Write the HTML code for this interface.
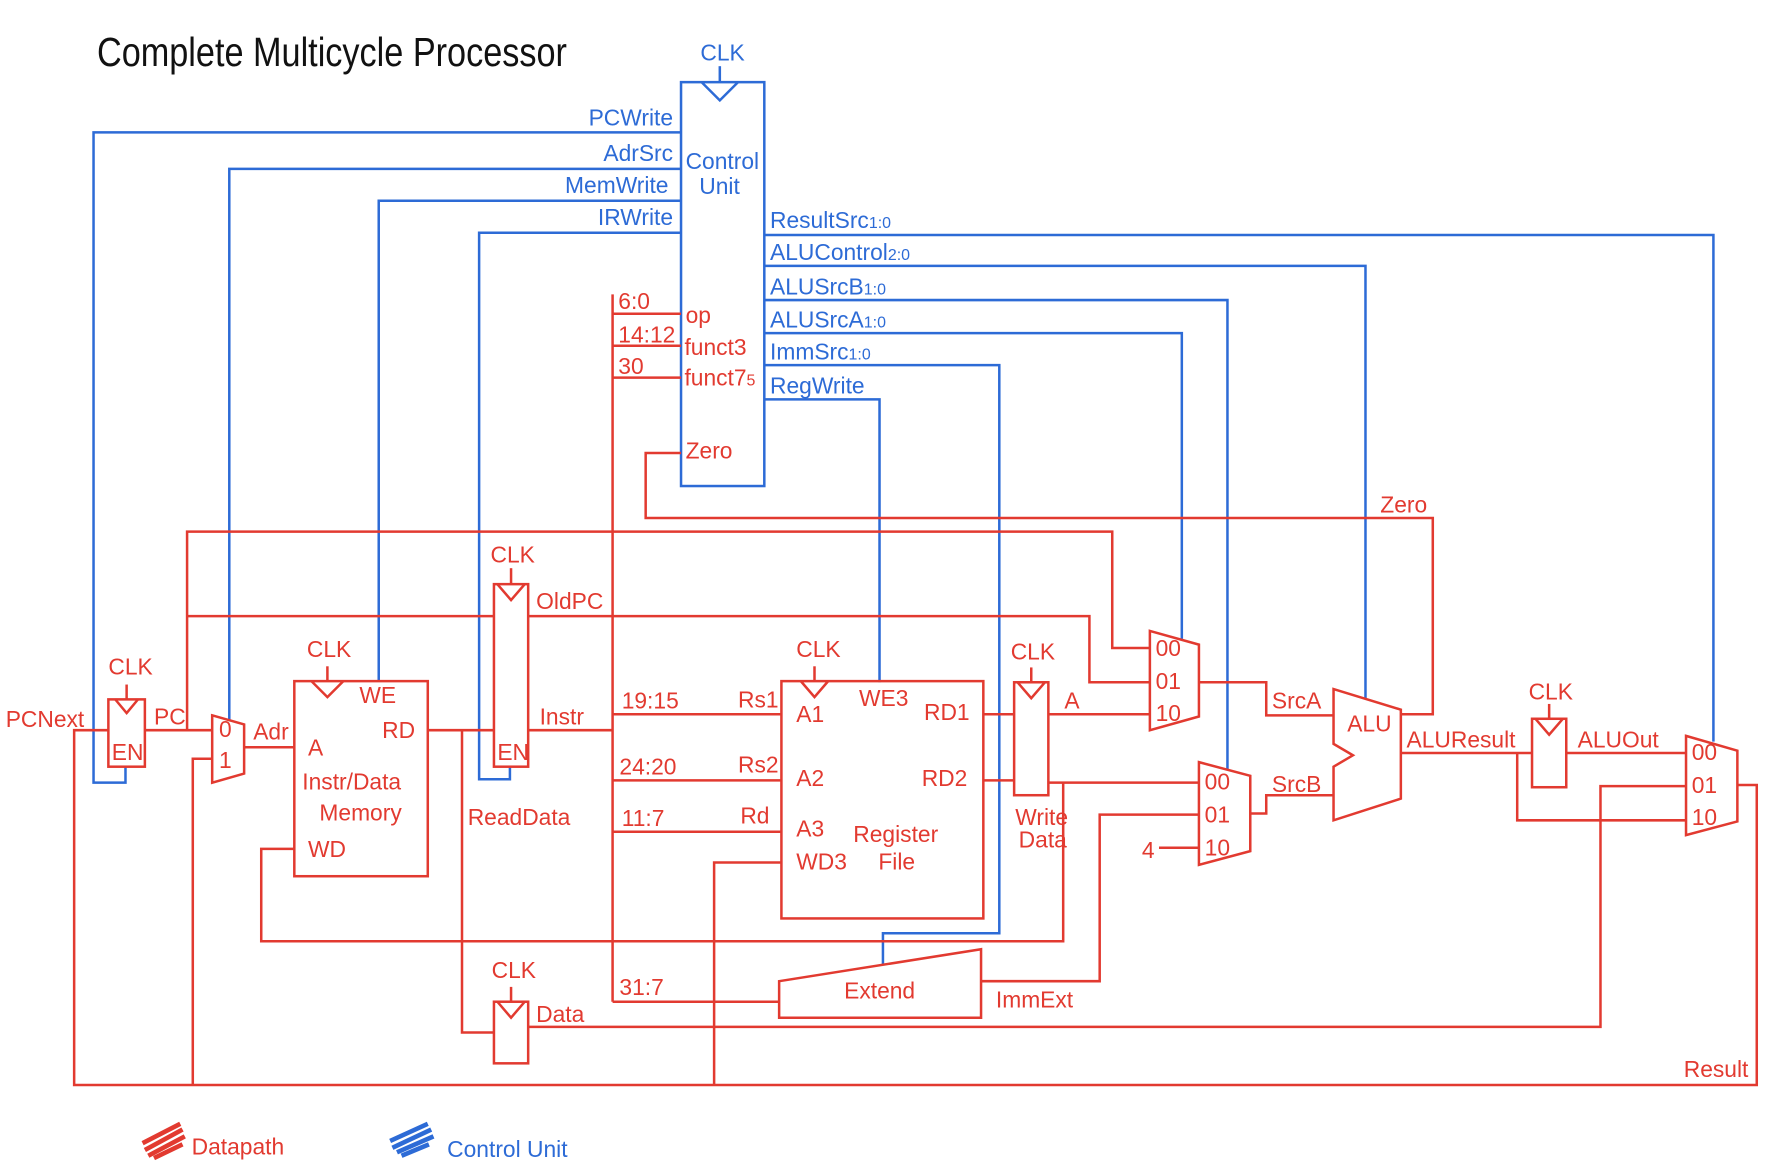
<!DOCTYPE html>
<html><head><meta charset="utf-8"><style>
html,body{margin:0;padding:0;background:#fff;}
svg{display:block;}
text{font-family:"Liberation Sans Narrow","Liberation Sans",sans-serif;}
.r{stroke:#e23a30;fill:none;stroke-width:2.2;}
.b{stroke:#2d6bd6;fill:none;stroke-width:2.2;}
.rt{fill:#e23a30;font-size:20px;}
.bt{fill:#2d6bd6;font-size:20px;}
</style></head><body>
<svg width="1783" height="1174" viewBox="0 0 1563 1029" preserveAspectRatio="none" xmlns="http://www.w3.org/2000/svg">
<rect width="1563" height="1029" fill="#fff"/>
<text x="85" y="58" font-size="36" fill="#111" textLength="412" lengthAdjust="spacingAndGlyphs">Complete Multicycle Processor</text>

<!-- Control unit -->
<rect class="b" x="597" y="72" width="73" height="354"/>
<polyline class="b" points="615,72 631,88 647,72"/>
<line class="b" x1="631" y1="58" x2="631" y2="72"/>
<text class="bt" x="614" y="53">CLK</text>
<text class="bt" x="601" y="148">Control</text>
<text class="bt" x="613" y="170">Unit</text>

<polyline class="b" points="597,116 82,116 82,686 110,686 110,672"/>
<text class="bt" x="590" y="110" text-anchor="end">PCWrite</text>
<polyline class="b" points="597,148 201,148 201,632"/>
<text class="bt" x="590" y="141" text-anchor="end">AdrSrc</text>
<polyline class="b" points="597,176 332,176 332,597"/>
<text class="bt" x="586" y="169" text-anchor="end">MemWrite</text>
<polyline class="b" points="597,204 420,204 420,683 447,683 447,672"/>
<text class="bt" x="590" y="197" text-anchor="end">IRWrite</text>

<polyline class="b" points="670,206 1502,206 1502,650"/>
<text class="bt" x="675" y="200">ResultSrc<tspan font-size="14">1:0</tspan></text>
<polyline class="b" points="670,233 1197,233 1197,612"/>
<text class="bt" x="675" y="228">ALUControl<tspan font-size="14">2:0</tspan></text>
<polyline class="b" points="670,263 1076,263 1076,675"/>
<text class="bt" x="675" y="258">ALUSrcB<tspan font-size="14">1:0</tspan></text>
<polyline class="b" points="670,292 1036,292 1036,560"/>
<text class="bt" x="675" y="287">ALUSrcA<tspan font-size="14">1:0</tspan></text>
<polyline class="b" points="670,320 876,320 876,818 774,818 774,845"/>
<text class="bt" x="675" y="315">ImmSrc<tspan font-size="14">1:0</tspan></text>
<polyline class="b" points="670,350 771,350 771,598"/>
<text class="bt" x="675" y="345">RegWrite</text>

<!-- Instr bus -->
<line class="r" x1="537" y1="258" x2="537" y2="878"/>
<line class="r" x1="537" y1="275" x2="597" y2="275"/>
<line class="r" x1="537" y1="303" x2="597" y2="303"/>
<line class="r" x1="537" y1="331" x2="597" y2="331"/>
<text class="rt" x="542" y="271" font-size="16">6:0</text>
<text class="rt" x="542" y="300" font-size="16">14:12</text>
<text class="rt" x="542" y="328" font-size="16">30</text>
<text class="rt" x="601" y="283">op</text>
<text class="rt" x="600" y="311">funct3</text>
<text class="rt" x="600" y="338">funct7<tspan font-size="14">5</tspan></text>
<text class="rt" x="601" y="402">Zero</text>
<polyline class="r" points="597,397 566,397 566,454 1256,454 1256,626 1228,626"/>
<text class="rt" x="1210" y="449">Zero</text>

<!-- PC register -->
<rect class="r" x="95" y="613" width="32" height="59"/>
<polyline class="r" points="101,613 111,625 121,613"/>
<line class="r" x1="111" y1="600" x2="111" y2="613"/>
<text class="rt" x="95" y="591">CLK</text>
<text class="rt" x="98" y="666" font-size="16">EN</text>
<text class="rt" x="5" y="637">PCNext</text>
<polyline class="r" points="95,640 65,640 65,951 1540,951 1540,688 1523,688"/>
<text class="rt" x="1476" y="944">Result</text>
<line class="r" x1="127" y1="640" x2="186" y2="640"/>
<text class="rt" x="135" y="635">PC</text>
<polyline class="r" points="164,640 164,466 975,466 975,568 1008,568"/>
<polyline class="r" points="164,540 433,540"/>
<polyline class="r" points="463,540 955,540 955,598 1008,598"/>
<text class="rt" x="470" y="534">OldPC</text>

<!-- Adr mux -->
<polygon class="r" points="186,627 214,635 214,678 186,686"/>
<text class="rt" x="192" y="646" font-size="16">0</text>
<text class="rt" x="192" y="673" font-size="16">1</text>
<polyline class="r" points="186,665 169,665 169,951"/>
<line class="r" x1="214" y1="655" x2="258" y2="655"/>
<text class="rt" x="222" y="648">Adr</text>

<!-- Memory -->
<rect class="r" x="258" y="597" width="117" height="171"/>
<polyline class="r" points="273,597 287,611 301,597"/>
<line class="r" x1="287" y1="584" x2="287" y2="597"/>
<text class="rt" x="269" y="576">CLK</text>
<text class="rt" x="315" y="616">WE</text>
<text class="rt" x="335" y="647">RD</text>
<text class="rt" x="270" y="662">A</text>
<text class="rt" x="265" y="692">Instr/Data</text>
<text class="rt" x="280" y="719">Memory</text>
<text class="rt" x="270" y="751">WD</text>
<polyline class="r" points="258,744 229,744 229,825 932,825 932,686"/>
<line class="r" x1="375" y1="640" x2="433" y2="640"/>
<polyline class="r" points="405,640 405,905 433,905"/>
<text class="rt" x="410" y="723">ReadData</text>

<!-- Instr reg -->
<rect class="r" x="433" y="512" width="30" height="160"/>
<polyline class="r" points="436,512 448,526 460,512"/>
<line class="r" x1="448" y1="498" x2="448" y2="512"/>
<text class="rt" x="430" y="493">CLK</text>
<text class="rt" x="436" y="666" font-size="16">EN</text>
<line class="r" x1="463" y1="640" x2="537" y2="640"/>
<text class="rt" x="473" y="635">Instr</text>

<line class="r" x1="537" y1="626" x2="685" y2="626"/>
<line class="r" x1="537" y1="684" x2="685" y2="684"/>
<line class="r" x1="537" y1="729" x2="685" y2="729"/>
<line class="r" x1="537" y1="878" x2="683" y2="878"/>
<text class="rt" x="545" y="621" font-size="16">19:15</text>
<text class="rt" x="543" y="679" font-size="16">24:20</text>
<text class="rt" x="545" y="724" font-size="16">11:7</text>
<text class="rt" x="543" y="872" font-size="16">31:7</text>
<text class="rt" x="647" y="620">Rs1</text>
<text class="rt" x="647" y="677">Rs2</text>
<text class="rt" x="649" y="722">Rd</text>

<!-- Register file -->
<rect class="r" x="685" y="597" width="177" height="208"/>
<polyline class="r" points="702,597 714,611 726,597"/>
<line class="r" x1="714" y1="584" x2="714" y2="597"/>
<text class="rt" x="698" y="576">CLK</text>
<text class="rt" x="698" y="633">A1</text>
<text class="rt" x="753" y="619">WE3</text>
<text class="rt" x="810" y="631">RD1</text>
<text class="rt" x="698" y="689">A2</text>
<text class="rt" x="808" y="689">RD2</text>
<text class="rt" x="698" y="733">A3</text>
<text class="rt" x="748" y="738">Register</text>
<text class="rt" x="698" y="762">WD3</text>
<text class="rt" x="770" y="762">File</text>
<polyline class="r" points="685,756 626,756 626,951"/>

<!-- A / WriteData reg -->
<rect class="r" x="889" y="598" width="30" height="99"/>
<polyline class="r" points="892,598 904,612 916,598"/>
<line class="r" x1="904" y1="585" x2="904" y2="598"/>
<text class="rt" x="886" y="578">CLK</text>
<line class="r" x1="862" y1="626" x2="889" y2="626"/>
<line class="r" x1="862" y1="684" x2="889" y2="684"/>
<line class="r" x1="919" y1="626" x2="1008" y2="626"/>
<text class="rt" x="933" y="621">A</text>
<line class="r" x1="919" y1="686" x2="1051" y2="686"/>
<text class="rt" x="890" y="723" font-size="17">Write</text>
<text class="rt" x="893" y="743" font-size="17">Data</text>

<!-- SrcA mux -->
<polygon class="r" points="1008,553 1051,565 1051,628 1008,640"/>
<text class="rt" x="1013" y="575" font-size="17">00</text>
<text class="rt" x="1013" y="604" font-size="17">01</text>
<text class="rt" x="1013" y="632" font-size="17">10</text>
<polyline class="r" points="1051,598 1110,598 1110,627 1169,627"/>
<text class="rt" x="1115" y="621">SrcA</text>

<!-- SrcB mux -->
<polygon class="r" points="1051,668 1096,680 1096,746 1051,758"/>
<text class="rt" x="1056" y="692" font-size="17">00</text>
<text class="rt" x="1056" y="721" font-size="17">01</text>
<text class="rt" x="1056" y="750" font-size="17">10</text>
<polyline class="r" points="1051,714 964,714 964,860 860,860"/>
<line class="r" x1="1016" y1="743" x2="1051" y2="743"/>
<text class="rt" x="1001" y="752">4</text>
<polyline class="r" points="1096,713 1110,713 1110,697 1169,697"/>
<text class="rt" x="1115" y="694">SrcB</text>

<!-- ALU -->
<polygon class="r" points="1169,604 1228,622 1228,700 1169,719 1169,672 1186,662 1169,652"/>
<text class="rt" x="1181" y="641">ALU</text>
<line class="r" x1="1228" y1="660" x2="1343" y2="660"/>
<text class="rt" x="1233" y="655">ALUResult</text>
<polyline class="r" points="1330,660 1330,719 1478,719"/>

<!-- ALUOut reg -->
<rect class="r" x="1343" y="630" width="30" height="60"/>
<polyline class="r" points="1346,630 1358,644 1370,630"/>
<line class="r" x1="1358" y1="617" x2="1358" y2="630"/>
<text class="rt" x="1340" y="613">CLK</text>
<line class="r" x1="1373" y1="660" x2="1478" y2="660"/>
<text class="rt" x="1383" y="655">ALUOut</text>

<!-- Result mux -->
<polygon class="r" points="1478,645 1523,658 1523,720 1478,732"/>
<text class="rt" x="1483" y="666" font-size="17">00</text>
<text class="rt" x="1483" y="695" font-size="17">01</text>
<text class="rt" x="1483" y="723" font-size="17">10</text>
<polyline class="r" points="1478,689 1403,689 1403,900 463,900"/>

<!-- Data reg -->
<rect class="r" x="433" y="878" width="30" height="54"/>
<polyline class="r" points="436,878 448,892 460,878"/>
<line class="r" x1="448" y1="865" x2="448" y2="878"/>
<text class="rt" x="431" y="857">CLK</text>
<text class="rt" x="470" y="896">Data</text>

<!-- Extend -->
<polygon class="r" points="683,860 860,832 860,892 683,892"/>
<text class="rt" x="740" y="875">Extend</text>
<text class="rt" x="873" y="883">ImmExt</text>

<!-- Legend -->
<g stroke="#e23a30" stroke-width="4" fill="none">
<path d="M125,1002 L158,985 M127,1008 L160,990 M130,1013 L162,996 M135,1015 L160,1003"/>
</g>
<text class="rt" x="168" y="1012" font-size="32">Datapath</text>
<g stroke="#2d6bd6" stroke-width="4" fill="none">
<path d="M342,1000 L375,985 M344,1006 L378,990 M348,1010 L380,996 M352,1013 L376,1003"/>
</g>
<text class="bt" x="392" y="1014" font-size="32">Control Unit</text>
</svg>
</body></html>
